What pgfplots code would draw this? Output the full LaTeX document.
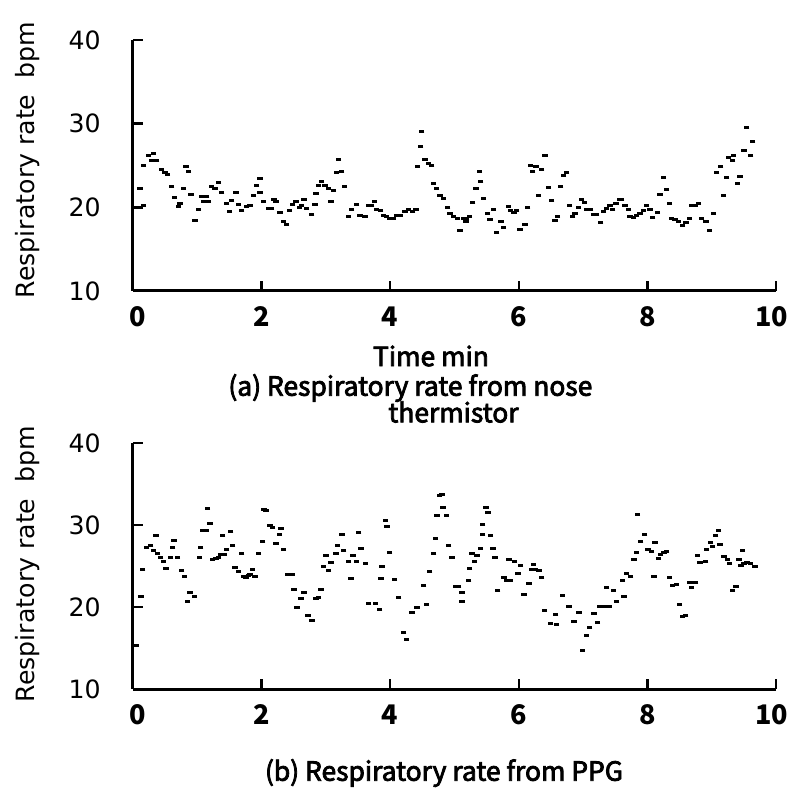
\documentclass[border=0pt]{standalone}
\usepackage{pgfplots}
\pgfplotsset{compat=1.18}
\usepackage{fontspec}
\setmainfont{DejaVu Sans}
\newfontfamily\jp[FakeBold=3]{Noto Sans CJK JP}
\newfontfamily\jpn{Noto Sans CJK JP}

\pgfplotstableread{
x y
0.109 22.27
0.161 20.16
0.161 25.06
0.238 26.14
0.290 25.54
0.316 26.45
0.368 25.54
0.446 24.54
0.498 24.14
0.534 23.98
0.601 22.55
0.643 21.12
0.705 20.08
0.731 20.48
0.783 22.27
0.824 24.94
0.861 24.34
0.902 21.55
0.964 18.41
1.016 19.76
1.068 21.27
1.104 20.72
1.146 21.27
1.172 20.68
1.223 22.55
1.275 22.27
1.327 22.95
1.379 21.75
1.457 20.40
1.498 19.52
1.534 20.76
1.602 21.83
1.638 20.32
1.690 19.60
1.768 20.08
1.820 20.16
1.871 21.47
1.923 22.59
1.975 23.39
1.975 21.79
2.027 20.68
2.105 19.84
2.157 19.84
2.193 20.96
2.224 20.68
2.286 19.40
2.338 18.29
2.390 17.97
2.431 19.68
2.483 20.36
2.535 20.72
2.587 20.00
2.623 20.24
2.659 20.88
2.701 19.88
2.779 19.16
2.830 20.32
2.846 21.67
2.882 22.63
2.934 23.03
2.986 22.63
3.038 22.23
3.079 20.72
3.116 21.99
3.167 24.14
3.193 25.74
3.245 24.26
3.287 22.55
3.349 18.88
3.401 19.76
3.479 20.36
3.530 19.08
3.608 18.96
3.660 20.16
3.712 20.16
3.753 20.72
3.790 19.76
3.852 19.68
3.893 19.08
3.945 18.88
3.997 18.65
4.049 18.61
4.101 19.00
4.152 19.00
4.230 19.48
4.282 19.80
4.349 19.56
4.401 19.76
4.422 24.94
4.474 27.25
4.489 29.04
4.541 25.66
4.593 25.26
4.645 24.98
4.671 22.87
4.723 22.27
4.774 21.39
4.826 21.00
4.894 19.96
4.930 19.28
4.982 18.88
5.044 18.65
5.086 17.21
5.137 18.69
5.179 18.25
5.189 18.69
5.231 18.88
5.283 20.56
5.334 22.27
5.386 24.30
5.407 23.03
5.448 21.00
5.511 19.28
5.552 18.49
5.604 19.76
5.656 16.97
5.723 18.33
5.759 17.57
5.837 20.08
5.873 19.60
5.925 19.36
5.967 19.60
6.018 17.33
6.096 17.97
6.138 19.96
6.185 25.06
6.216 24.34
6.267 24.86
6.304 21.47
6.356 24.54
6.408 26.25
6.459 22.39
6.511 20.80
6.563 18.41
6.600 18.88
6.651 22.47
6.693 23.86
6.744 24.22
6.786 20.16
6.838 18.96
6.874 19.28
6.926 20.00
6.978 20.88
7.019 20.56
7.055 19.80
7.118 19.76
7.159 19.20
7.211 19.20
7.273 18.13
7.315 19.48
7.367 19.88
7.418 20.16
7.460 19.80
7.512 20.48
7.563 20.88
7.600 20.88
7.652 20.16
7.703 19.76
7.729 18.88
7.781 18.80
7.833 19.08
7.885 19.28
7.937 19.68
7.988 20.20
8.040 19.76
8.082 18.80
8.155 19.44
8.196 21.59
8.248 23.55
8.300 22.15
8.341 20.48
8.378 18.69
8.430 18.49
8.481 18.29
8.549 17.77
8.600 18.17
8.652 18.69
8.688 20.16
8.740 20.24
8.792 20.40
8.844 18.69
8.911 18.25
8.963 17.21
9.025 19.28
9.077 24.18
9.139 24.86
9.181 21.47
9.233 23.55
9.264 25.98
9.326 25.58
9.336 26.25
9.398 22.87
9.440 23.67
9.502 26.85
9.544 29.56
9.606 26.14
9.637 27.89
}\thermistor

\pgfplotstableread{
x y
0.045 15.28
0.123 21.26
0.149 24.59
0.211 27.24
0.274 27.44
0.315 26.95
0.357 28.74
0.383 26.54
0.429 25.98
0.471 25.49
0.512 24.67
0.585 26.06
0.616 27.24
0.637 28.09
0.689 26.06
0.756 24.51
0.798 23.78
0.845 20.73
0.886 21.75
0.954 21.26
1.032 26.02
1.052 27.20
1.083 29.39
1.135 29.39
1.156 32.03
1.198 30.20
1.239 25.81
1.291 25.89
1.327 25.98
1.364 26.38
1.395 28.66
1.416 26.42
1.457 27.03
1.520 29.23
1.551 27.48
1.587 24.80
1.639 24.35
1.691 26.54
1.727 23.70
1.759 23.62
1.795 23.90
1.821 24.02
1.857 24.59
1.899 23.70
1.950 26.54
2.018 27.93
2.039 31.91
2.070 31.83
2.132 29.88
2.174 29.72
2.226 27.76
2.278 28.82
2.299 29.55
2.340 27.03
2.402 24.02
2.470 23.94
2.506 22.15
2.548 19.92
2.610 21.06
2.662 21.75
2.719 18.94
2.781 18.33
2.849 21.06
2.885 21.18
2.922 22.15
2.963 25.00
3.000 26.26
3.041 24.43
3.082 25.45
3.155 26.54
3.181 27.44
3.249 28.86
3.275 26.95
3.352 25.53
3.389 23.50
3.420 26.34
3.472 25.53
3.508 29.11
3.545 27.11
3.612 25.33
3.664 20.37
3.768 20.45
3.836 19.72
3.856 23.50
3.872 24.92
3.924 30.61
3.950 29.80
3.991 26.63
4.064 23.41
4.131 21.18
4.209 16.87
4.251 15.98
4.339 19.31
4.417 19.96
4.521 22.68
4.562 20.33
4.614 24.31
4.677 26.54
4.702 28.37
4.728 31.10
4.770 33.54
4.806 33.78
4.822 32.15
4.874 31.10
4.910 27.52
4.962 26.06
5.014 22.56
5.066 22.56
5.118 21.75
5.118 20.69
5.222 23.29
5.237 24.72
5.274 26.54
5.310 25.49
5.352 26.30
5.403 27.15
5.440 28.86
5.440 30.08
5.491 32.15
5.523 31.50
5.559 28.66
5.601 27.15
5.627 26.06
5.673 22.07
5.767 23.62
5.819 23.29
5.861 23.29
5.845 25.85
5.933 25.53
5.985 24.11
6.026 25.04
6.078 21.50
6.156 22.89
6.193 24.59
6.224 25.24
6.260 24.59
6.312 24.43
6.354 23.54
6.400 19.55
6.494 18.01
6.572 19.11
6.587 17.85
6.676 21.42
6.779 20.12
6.857 18.21
6.935 19.31
6.987 14.67
7.049 16.50
7.101 17.52
7.169 19.15
7.221 18.17
7.262 20.04
7.314 20.12
7.366 22.40
7.402 20.04
7.469 21.99
7.521 20.65
7.611 23.29
7.637 21.34
7.678 24.11
7.741 23.78
7.792 25.81
7.828 26.67
7.844 31.30
7.896 27.97
7.958 28.90
8.010 27.07
8.062 26.71
8.103 23.70
8.119 27.85
8.171 25.93
8.207 26.46
8.259 26.67
8.301 26.71
8.342 23.58
8.389 22.68
8.451 22.80
8.498 20.33
8.544 18.82
8.596 19.02
8.664 23.01
8.685 22.40
8.752 23.01
8.778 26.30
8.819 25.41
8.908 25.49
8.918 27.03
8.986 27.85
9.012 27.36
9.063 28.66
9.105 29.31
9.131 27.68
9.193 26.22
9.245 25.81
9.276 25.33
9.323 21.99
9.375 22.44
9.427 25.81
9.453 25.12
9.479 26.87
9.505 25.33
9.547 25.41
9.599 25.33
9.671 24.92
}\ppg

\pgfplotsset{
  resp/.style={
    scale only axis,
    width=321.5pt,
    xmin=0, xmax=10, ymin=10, ymax=40,
    axis x line*=bottom, axis y line*=left,
    axis line style={line width=1.5pt, -},
    xtick={0,2,4,6,8,10}, ytick={10,20,30,40},
    xticklabels={\hspace*{4.5pt}0,2,4,6,8,10\hspace*{4pt}},
    tick align=inside,
    major tick length=5pt,
    tick style={line width=1.2pt, black},
    /pgf/number format/assume math mode=true,
    yticklabel style={font=\fontsize{12.6}{14}\selectfont, anchor=east, inner sep=0pt, xshift=-16pt},
    xticklabel style={font=\jpn\fontsize{13.5}{15}\selectfont\bfseries, anchor=north, inner sep=0pt, yshift=-7.5pt},
    clip=false,
  },
  dots/.style={only marks, mark=-, mark size=1.35pt, mark options={line width=1.5pt, black}, black},
}

\begin{document}
\begin{tikzpicture}
\useasboundingbox (-66.5pt,-377pt) rectangle (329pt,20pt);
\begin{axis}[resp, height=125.5pt, at={(0pt,0pt)}, anchor=north west]
\addplot[dots] table {\thermistor};
\end{axis}
\begin{axis}[resp, height=123pt, at={(0pt,-201.5pt)}, anchor=north west]
\addplot[dots] table {\ppg};
\end{axis}
\node[rotate=90, font=\fontsize{12.6}{14}\selectfont] at (-52.5pt,-60pt) {Respiratory rate\ \ bpm};
\node[rotate=90, font=\fontsize{12.6}{14}\selectfont] at (-52.5pt,-262pt) {Respiratory rate\ \ bpm};
\node[font=\jp\fontsize{13.2}{15}\selectfont] at (149pt,-158pt) {Time min};
\node[font=\jp\fontsize{13.2}{15}\selectfont, anchor=west, inner sep=0pt] at (47.5pt,-174pt) {(a) Respiratory rate from nose};
\node[font=\jp\fontsize{13.2}{15}\selectfont, anchor=west, inner sep=0pt] at (127.5pt,-186pt) {thermistor};
\node[font=\jp\fontsize{13.2}{15}\selectfont] at (155.5pt,-366.5pt) {(b) Respiratory rate from PPG};
\end{tikzpicture}
\end{document}
